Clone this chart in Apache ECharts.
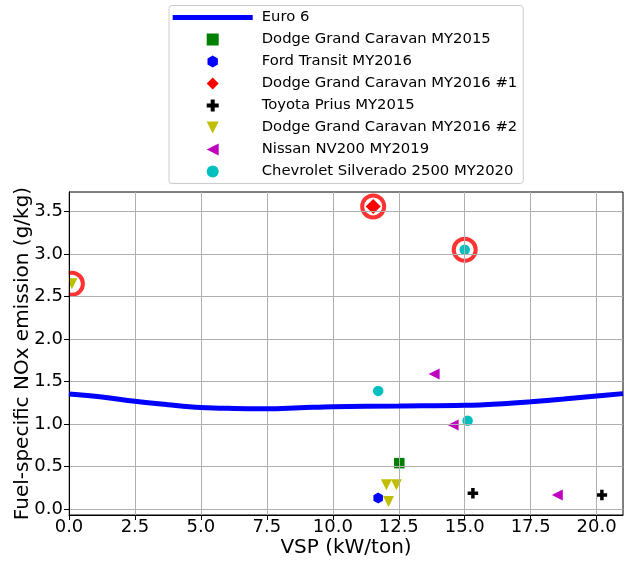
<!DOCTYPE html>
<html><head><meta charset="utf-8">
<script src="https://cdn.jsdelivr.net/npm/echarts@6/dist/echarts.min.js"></script>
<style>html,body{margin:0;padding:0;background:#fff}#c{width:631px;height:561px}</style>
</head><body><div id="c"></div>
<script>
const xTicks = [0, 2.5, 5, 7.5, 10, 12.5, 15, 17.5, 20];
const yTicks = [0, 0.5, 1, 1.5, 2, 2.5, 3, 3.5];
const euroX = [0, 1.25, 2.5, 3.75, 5, 6.25, 7.5, 8.75, 10, 12.5, 15, 16.25, 17.5, 18.75, 20, 21];
const euroY = [1.354, 1.319, 1.267, 1.228, 1.196, 1.184, 1.181, 1.192, 1.204, 1.212, 1.22, 1.236, 1.263, 1.295, 1.331, 1.358];
const dodge2015 = [[12.52, 0.54]];
const fordTransit = [[11.72, 0.13]];
const dodge2016a = [[11.53, 3.56]];
const prius = [[15.31, 0.185], [20.2, 0.165]];
const dodge2016b = [[0.11, 2.65], [12.03, 0.286], [12.41, 0.286], [12.11, 0.09]];
const nissan = [[13.84, 1.59], [14.56, 0.99], [18.51, 0.165]];
const silverado = [[11.72, 1.39], [15.11, 1.04], [15.0, 3.05]];
const highlighted = [[0.11, 2.65], [11.53, 3.56], [15.0, 3.05]];
const legendNames = ['Euro 6', 'Dodge Grand Caravan MY2015', 'Ford Transit MY2016',
  'Dodge Grand Caravan MY2016 #1', 'Toyota Prius MY2015', 'Dodge Grand Caravan MY2016 #2',
  'Nissan NV200 MY2019', 'Chevrolet Silverado 2500 MY2020'];

const FONT = 'DejaVu Sans';
const SQUARE = 'path://M-1,-1L1,-1L1,1L-1,1Z';
const DIAMOND = 'path://M0,-1L1,0L0,1L-1,0Z';
const TRI_DOWN = 'path://M-1,-1L1,-1L0,1Z';
const TRI_LEFT = 'path://M1,-1L1,1L-1,0Z';
const HEX = 'path://M0,-1L0.866,-0.5L0.866,0.5L0,1L-0.866,0.5L-0.866,-0.5Z';
const PLUS = 'path://M-1,-0.333L-0.333,-0.333L-0.333,-1L0.333,-1L0.333,-0.333L1,-0.333L1,0.333L0.333,0.333L0.333,1L-0.333,1L-0.333,0.333L-1,0.333Z';
const LINEICON = 'path://M0,0L80,0L80,5L0,5Z';

const chart = echarts.init(document.getElementById('c'), null, {renderer: 'canvas'});

function sc(name, data, color, symbol, size) {
  return {
    name: name, type: 'scatter', data: data, symbol: symbol, symbolSize: size,
    symbolKeepAspect: true,
    itemStyle: {color: color, opacity: 1}, z: 2, silent: true
  };
}

const axisCommon = {
  type: 'value', z: 4,
  axisLine: {show: true, onZero: false, lineStyle: {color: '#000', width: 1}},
  splitLine: {show: true, lineStyle: {color: '#b0b0b0', width: 1}},
  nameLocation: 'middle', nameMoveOverlap: false,
  nameTextStyle: {fontFamily: FONT, fontSize: 20, color: '#000'}
};

const iconFor = {
  'Euro 6': LINEICON, 'Dodge Grand Caravan MY2015': SQUARE, 'Ford Transit MY2016': HEX,
  'Dodge Grand Caravan MY2016 #1': DIAMOND, 'Toyota Prius MY2015': PLUS,
  'Dodge Grand Caravan MY2016 #2': TRI_DOWN, 'Nissan NV200 MY2019': TRI_LEFT,
  'Chevrolet Silverado 2500 MY2020': 'circle'
};

chart.setOption({
  animation: false,
  backgroundColor: '#fff',
  grid: {left: 69, right: 8, top: 192, bottom: 46, show: true, borderColor: '#000', borderWidth: 1,
         backgroundColor: 'transparent', containLabel: false, outerBoundsMode: 'none'},
  graphic: [{type: 'rect', z: 3, silent: true, shape: {x: 0, y: 185, width: 68.5, height: 340}, style: {fill: '#fff'}}],
  legend: {
    orient: 'vertical', left: 169, top: 5.5, padding: [4.5, 6, 4.5, 3.7],
    itemWidth: 80, itemHeight: 12, itemGap: 7, symbolKeepAspect: true,
    backgroundColor: 'rgba(255,255,255,0.8)', borderColor: '#cccccc', borderWidth: 1, borderRadius: 3,
    textStyle: {fontFamily: FONT, fontSize: 14.8, color: '#000', padding: [0, 0, 0, 4]},
    data: legendNames.map(n => ({name: n, icon: iconFor[n]})), z: 10, selectedMode: false
  },
  xAxis: Object.assign({}, axisCommon, {
    min: 0, max: 21,
    axisTick: {show: true, inside: false, length: 5, customValues: xTicks, lineStyle: {color: '#000', width: 1}},
    axisLabel: {customValues: xTicks, formatter: v => v.toFixed(1), fontFamily: FONT, fontSize: 18, color: '#000', margin: 3},
    name: 'VSP (kW/ton)', nameGap: 23
  }),
  yAxis: Object.assign({}, axisCommon, {
    min: -0.07, max: 3.73,
    axisTick: {show: true, inside: false, length: 5, customValues: yTicks, lineStyle: {color: '#000', width: 1}},
    axisLabel: {customValues: yTicks, formatter: v => v.toFixed(1), fontFamily: FONT, fontSize: 18, color: '#000', margin: 6},
    name: 'Fuel-specific NOx emission (g/kg)', nameGap: 36, nameRotate: 90
  }),
  series: [
    {name: 'Euro 6', type: 'line', data: euroX.map((x, i) => [x, euroY[i]]), smooth: 0.4,
     symbol: 'none', showSymbol: false, lineStyle: {color: '#0000ff', width: 5}, itemStyle: {color: '#0000ff'}, z: 5, silent: true},
    {name: 'highlight', type: 'scatter', data: highlighted, symbol: 'circle', symbolSize: 22,
     itemStyle: {color: 'rgba(0,0,0,0)', borderColor: '#ff0000', borderWidth: 4}, z: 2, silent: true},
    sc('Dodge Grand Caravan MY2015', dodge2015, '#008000', SQUARE, 10.5),
    sc('Ford Transit MY2016', fordTransit, '#0000ff', HEX, 11),
    sc('Dodge Grand Caravan MY2016 #1', dodge2016a, '#ff0000', DIAMOND, 15),
    sc('Toyota Prius MY2015', prius, '#000000', PLUS, 10.5),
    sc('Dodge Grand Caravan MY2016 #2', dodge2016b, '#bfbf00', TRI_DOWN, 11),
    sc('Nissan NV200 MY2019', nissan, '#bf00bf', TRI_LEFT, 11),
    sc('Chevrolet Silverado 2500 MY2020', silverado, '#00bfbf', 'circle', 10.5)
  ]
});
</script></body></html>
